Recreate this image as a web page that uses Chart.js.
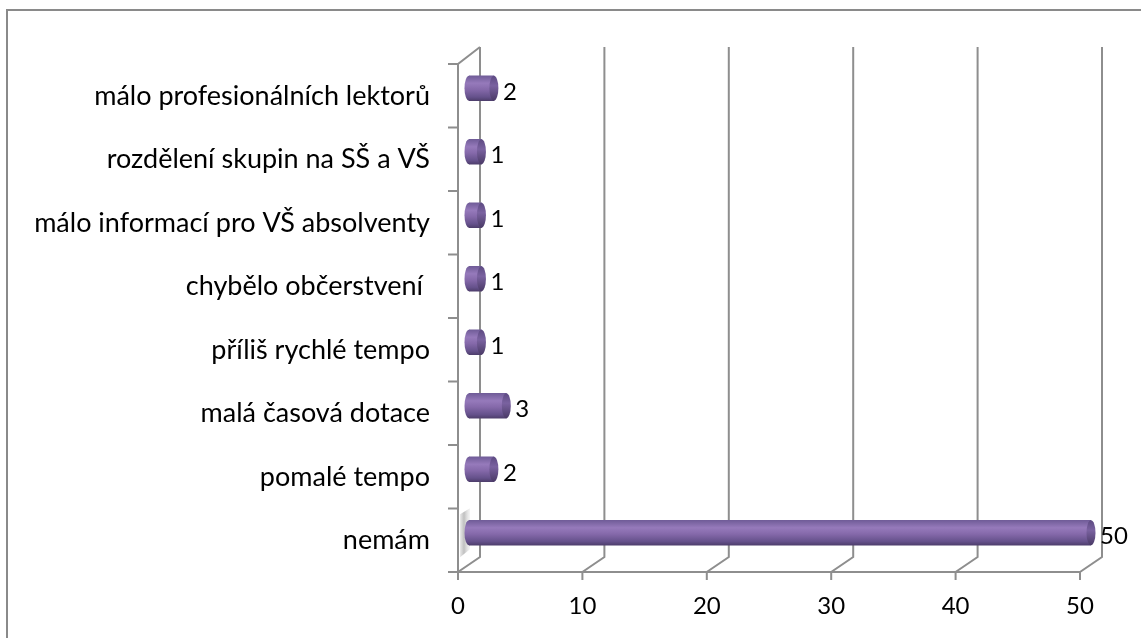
<!DOCTYPE html>
<html>
<head>
<meta charset="utf-8">
<script src="https://cdn.jsdelivr.net/npm/chart.js@4/dist/chart.umd.min.js"></script>
<style>
  body { margin: 0; background: #fff; }
  canvas { display: block; }
</style>
</head>
<body>
<canvas id="chart" width="1141" height="638"></canvas>
<script>
const categories = [
    'málo profesionálních lektorů',
    'rozdělení skupin na SŠ a VŠ',
    'málo informací pro VŠ absolventy',
    'chybělo občerstvení ',
    'příliš rychlé tempo',
    'malá časová dotace',
    'pomalé tempo',
    'nemám'
];
const counts = [2, 1, 1, 1, 1, 3, 2, 50];
const xTicks = [0, 10, 20, 30, 40, 50];

// half of the 3D depth offset (front is -DX,+DY, back is +DX,-DY)
const DX = 11, DY = 7.5;
const BAR_H = 25;
const FONT = 'Lato, "Open Sans", sans-serif';
const GRID = '#8e8e8e';

function barGradient(ctx, yc) {
    const g = ctx.createLinearGradient(0, yc - BAR_H / 2, 0, yc + BAR_H / 2);
    g.addColorStop(0, '#705c98');
    g.addColorStop(0.3, '#967abb');
    g.addColorStop(0.55, '#8569aa');
    g.addColorStop(0.85, '#65518b');
    g.addColorStop(1, '#4e3e6c');
    return g;
}

function capGradient(ctx, yc) {
    const g = ctx.createLinearGradient(0, yc - BAR_H / 2, 0, yc + BAR_H / 2);
    g.addColorStop(0, '#5d4a82');
    g.addColorStop(0.4, '#7a62a0');
    g.addColorStop(1, '#4a3a66');
    return g;
}

const frame3d = {
    id: 'frame3d',
    beforeDraw(chart) {
        const ctx = chart.ctx;
        ctx.save();
        ctx.strokeStyle = '#8a8a8a';
        ctx.lineWidth = 2;
        ctx.strokeRect(7, 10, 1300, 800);
        ctx.restore();
    },
    beforeDatasetsDraw(chart) {
        const { ctx, chartArea: a, scales: { x } } = chart;
        const frontTop = a.top + DY, frontBottom = a.bottom + DY;
        const backTop = a.top - DY - 2, backBottom = a.bottom - DY;
        ctx.save();
        ctx.strokeStyle = GRID;
        ctx.lineWidth = 2;
        ctx.beginPath();
        xTicks.forEach(v => {
            const px = x.getPixelForValue(v);
            ctx.moveTo(px + DX, backTop);
            ctx.lineTo(px + DX, backBottom);
            ctx.lineTo(px - DX, frontBottom);
            ctx.lineTo(px - DX, frontBottom + 8);
        });
        const x0 = x.getPixelForValue(0) - DX;
        const x1 = x.getPixelForValue(50) - DX;
        ctx.moveTo(x0, frontBottom);
        ctx.lineTo(x1, frontBottom);
        ctx.moveTo(x0 + 2 * DX, backTop);
        ctx.lineTo(x0, frontTop);
        ctx.lineTo(x0, frontBottom);
        const band = a.height / categories.length;
        for (let i = 0; i <= categories.length; i++) {
            const ty = frontTop + i * band;
            ctx.moveTo(x0 - 10, ty);
            ctx.lineTo(x0, ty);
        }
        ctx.stroke();

        // wall shadow behind the long bar
        const meta = chart.getDatasetMeta(0);
        const big = meta.data[counts.indexOf(Math.max(...counts))];
        const sg = ctx.createLinearGradient(x0, 0, x0 + 12, 0);
        sg.addColorStop(0, 'rgba(140,140,140,0.0)');
        sg.addColorStop(0.5, 'rgba(140,140,140,0.55)');
        sg.addColorStop(1, 'rgba(200,200,200,0.2)');
        ctx.fillStyle = sg;
        ctx.beginPath();
        ctx.moveTo(x0 + 2, big.y - BAR_H / 2 - 6);
        ctx.lineTo(x0 + 12, big.y - BAR_H / 2 - 12);
        ctx.lineTo(x0 + 12, big.y + BAR_H / 2 + 4);
        ctx.lineTo(x0 + 2, big.y + BAR_H / 2 + 12);
        ctx.closePath();
        ctx.fill();

        // back end of each cylinder
        meta.data.forEach(el => {
            ctx.fillStyle = barGradient(ctx, el.y);
            ctx.beginPath();
            ctx.ellipse(el.base, el.y, 4.5, BAR_H / 2, 0, 0, Math.PI * 2);
            ctx.fill();
        });
        ctx.restore();
    },
    afterDatasetsDraw(chart) {
        const ctx = chart.ctx;
        const meta = chart.getDatasetMeta(0);
        ctx.save();
        meta.data.forEach((el, i) => {
            ctx.fillStyle = capGradient(ctx, el.y);
            ctx.beginPath();
            ctx.ellipse(el.x, el.y, 4.5, BAR_H / 2, 0, 0, Math.PI * 2);
            ctx.fill();
            ctx.fillStyle = '#000';
            ctx.font = '24px ' + FONT;
            ctx.textAlign = 'left';
            ctx.textBaseline = 'middle';
            ctx.fillText(String(counts[i]), el.x + 9, el.y + 4);
        });
        ctx.restore();
    }
};

new Chart(document.getElementById('chart'), {
    type: 'bar',
    data: {
        labels: categories,
        datasets: [{
            data: counts,
            barThickness: BAR_H,
            borderWidth: 0,
            borderSkipped: false,
            backgroundColor: c => {
                const a = c.chart.chartArea;
                if (!a) return '#8064a2';
                const yc = c.chart.scales.y.getPixelForValue(c.dataIndex);
                return barGradient(c.chart.ctx, yc);
            }
        }]
    },
    options: {
        indexAxis: 'y',
        responsive: false,
        animation: false,
        devicePixelRatio: 1,
        layout: { padding: { top: 56.5, right: 50, bottom: 0, left: 0 } },
        plugins: {
            legend: { display: false },
            tooltip: { enabled: false }
        },
        scales: {
            x: {
                min: 0,
                max: 50,
                afterFit: s => { s.height = 73.5; },
                afterBuildTicks: s => { s.ticks = xTicks.map(v => ({ value: v })); },
                grid: { display: false, drawTicks: false },
                border: { display: false },
                ticks: {
                    color: '#000',
                    font: { family: FONT, size: 24 },
                    padding: 27,
                    labelOffset: -DX
                }
            },
            y: {
                afterFit: s => { s.width = 469; },
                grid: { display: false, drawTicks: false },
                border: { display: false },
                ticks: {
                    color: '#000',
                    font: { family: FONT, size: 27 },
                    padding: 39,
                    labelOffset: 8
                }
            }
        }
    },
    plugins: [frame3d]
});
</script>
</body>
</html>
